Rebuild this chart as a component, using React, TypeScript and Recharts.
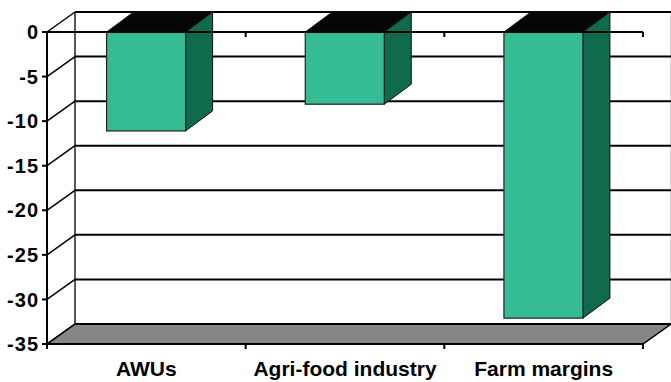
import { BarChart, Bar, XAxis, YAxis, CartesianGrid, ReferenceLine } from 'recharts';

// change by sector (%)
const categories = ['AWUs', 'Agri-food industry', 'Farm margins'];
const changes = [-11.1, -8.1, -32.1];
const yTicks = [0, -5, -10, -15, -20, -25, -30, -35];

const data = categories.map((name, i) => ({ name, value: changes[i] }));

const FONT = 'Arial, "Liberation Sans", Helvetica, sans-serif';
// depth of the walls / boxes
const WALL_DX = 28;
const WALL_DY = -20;
const BAR_DX = 27;
const BAR_DY = -20;

const FRONT = '#36BC94';
const SIDE = '#0F6A4E';
const TOP = '#050505';
const FLOOR = '#868686';

// each grid line is drawn on the back wall plus a diagonal on the left wall
const wallLine = (props: any) => {
  const { x1, x2, y1, index, y, height } = props;
  const bx1 = x1 + WALL_DX;
  const bx2 = x2 + WALL_DX;
  const by = y1 + WALL_DY;
  const floorY = y + height;
  return (
    <g key={props.key}>
      {index === 0 && (
        <g>
          <line x1={bx1} y1={y + WALL_DY} x2={bx1} y2={floorY + WALL_DY} stroke="#222" strokeWidth={1.5} />
          <line x1={bx2} y1={y + WALL_DY} x2={bx2} y2={floorY + WALL_DY} stroke="#aaa" strokeWidth={1} />
          <polygon
            points={`${x1},${floorY} ${x2},${floorY} ${bx2},${floorY + WALL_DY} ${bx1},${floorY + WALL_DY}`}
            fill={FLOOR}
            stroke="#000"
            strokeWidth={1.5}
          />
        </g>
      )}
      <line x1={x1} y1={y1} x2={bx1} y2={by} stroke="#000" strokeWidth={1.5} />
      <line x1={bx1} y1={by} x2={bx2} y2={by} stroke="#000" strokeWidth={2} />
    </g>
  );
};

// zero line on the front plane, with ticks between categories
const zeroLine = (props: any) => {
  const { x1, x2, y1 } = props;
  const step = (x2 - x1) / categories.length;
  return (
    <g>
      <line x1={x1} y1={y1} x2={x2} y2={y1} stroke="#000" strokeWidth={2} />
      {categories.map((c, i) => (
        <line key={c} x1={x1 + step * (i + 1)} y1={y1} x2={x1 + step * (i + 1)} y2={y1 + 5} stroke="#000" strokeWidth={2} />
      ))}
    </g>
  );
};

const Box3D = (props: any) => {
  const { x, y, width, height } = props;
  const top = Math.min(y, y + height);
  const bottom = Math.max(y, y + height);
  const right = x + width;
  return (
    <g>
      <polygon
        points={`${x},${top} ${right},${top} ${right + BAR_DX},${top + BAR_DY} ${x + BAR_DX},${top + BAR_DY}`}
        fill={TOP}
        stroke="#111"
        strokeWidth={1}
      />
      <polygon
        points={`${right},${top} ${right + BAR_DX},${top + BAR_DY} ${right + BAR_DX},${bottom + BAR_DY} ${right},${bottom}`}
        fill={SIDE}
        stroke="#111"
        strokeWidth={1}
      />
      <rect x={x} y={top} width={width} height={bottom - top} fill={FRONT} stroke="#222" strokeWidth={1.2} />
    </g>
  );
};

const CategoryTick = (props: any) => {
  const { x, y, payload, index, visibleTicksCount } = props;
  const half = payload.offset ?? 0;
  const axisY = y - 8;
  return (
    <g>
      <line x1={x - half} y1={axisY} x2={x - half} y2={axisY + 5} stroke="#000" strokeWidth={2} />
      {index === visibleTicksCount - 1 && (
        <line x1={x + half} y1={axisY} x2={x + half} y2={axisY + 5} stroke="#000" strokeWidth={2} />
      )}
      <text
        x={x}
        y={axisY + 32}
        textAnchor="middle"
        fill="#000"
        fontFamily={FONT}
        fontWeight="bold"
        fontSize={21}
      >
        {payload.value}
      </text>
    </g>
  );
};

export default function App() {
  return (
    <div style={{ position: 'absolute', left: 0, top: 0, width: 671, height: 382, background: '#fff' }}>
      <BarChart
        width={671}
        height={382}
        data={data}
        barCategoryGap="30%"
        margin={{ top: 32, right: 28, bottom: 0, left: 0 }}
      >
        <CartesianGrid horizontal={wallLine} vertical={false} />
        <XAxis
          dataKey="name"
          height={38}
          axisLine={{ stroke: '#000', strokeWidth: 2 }}
          tickLine={false}
          tickSize={6}
          tickMargin={2}
          interval={0}
          tick={<CategoryTick />}
        />
        <YAxis
          type="number"
          domain={[-35, 0]}
          ticks={yTicks}
          width={47}
          interval={0}
          axisLine={{ stroke: '#000', strokeWidth: 2 }}
          tickLine={{ stroke: '#000', strokeWidth: 2 }}
          tickSize={5}
          tickMargin={3}
          tick={{ fill: '#000', fontFamily: FONT, fontWeight: 'bold', fontSize: 20, letterSpacing: 1 }}
        />
        <ReferenceLine y={0} shape={zeroLine} />
        <Bar dataKey="value" shape={<Box3D />} isAnimationActive={false} />
      </BarChart>
    </div>
  );
}
